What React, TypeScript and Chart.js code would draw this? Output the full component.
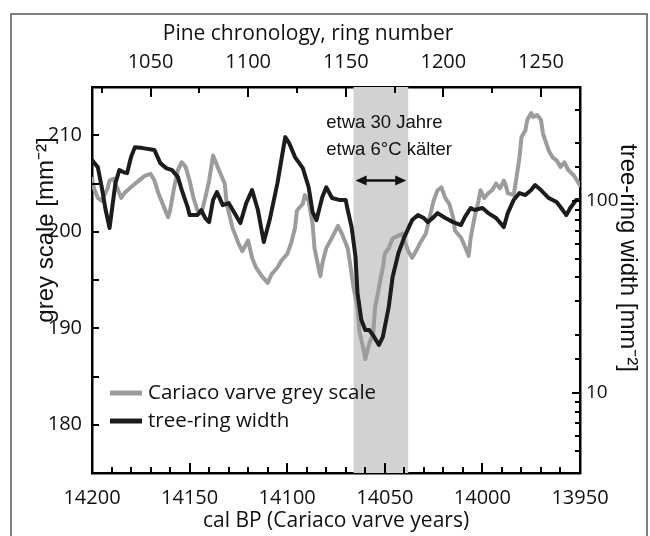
import React, { useEffect, useRef } from 'react';
import { Chart, registerables } from 'chart.js';

Chart.register(...registerables);

// ---------- data ----------
const greyYears = [14200, 14199, 14197, 14195, 14192, 14191, 14189, 14187, 14185, 14183, 14179, 14176, 14173, 14170, 14168, 14166, 14163, 14161, 14160, 14158, 14156, 14154, 14152, 14150, 14148, 14146, 14144, 14142, 14140, 14138, 14137, 14135, 14132, 14131, 14128, 14125, 14123, 14120, 14118, 14116, 14113, 14110, 14108, 14105, 14103, 14100, 14098, 14096, 14095, 14092, 14091, 14089, 14087, 14086, 14084, 14083, 14082, 14080, 14077, 14074, 14072, 14070, 14069, 14068, 14066, 14064, 14063, 14061, 14060, 14058, 14056, 14055, 14053, 14051, 14050, 14048, 14046, 14043, 14041, 14040, 14038, 14036, 14034, 14032, 14029, 14027, 14025, 14023, 14021, 14019, 14017, 14015, 14014, 14011, 14009, 14007, 14006, 14004, 14002, 14001, 13999, 13997, 13995, 13993, 13991, 13989, 13988, 13987, 13984, 13983, 13981, 13980, 13978, 13977, 13975, 13974, 13972, 13970, 13969, 13966, 13964, 13962, 13960, 13958, 13956, 13954, 13953, 13950];
const greyScale = [205.5, 204.5, 203.5, 203.2, 204.5, 205.3, 205.5, 204.5, 203.5, 204.1, 204.8, 205.3, 205.8, 206.0, 205.3, 204.0, 202.5, 201.5, 202.2, 204.5, 206.4, 207.2, 206.7, 205.3, 203.5, 202.2, 201.9, 203.5, 205.3, 207.9, 207.4, 206.4, 205.0, 202.9, 200.4, 198.8, 198.0, 199.1, 197.3, 196.3, 195.4, 194.7, 195.6, 196.3, 197.0, 197.7, 198.8, 200.4, 202.2, 202.9, 203.8, 203.2, 200.8, 198.3, 196.3, 195.4, 196.7, 198.3, 199.4, 200.6, 199.8, 198.8, 198.3, 197.0, 194.2, 192.1, 189.7, 187.9, 186.8, 188.4, 189.4, 192.1, 194.2, 196.3, 197.7, 198.3, 199.3, 199.6, 199.8, 199.1, 198.0, 197.3, 198.0, 198.8, 199.8, 201.5, 203.2, 204.3, 204.6, 203.5, 202.9, 201.5, 200.1, 199.4, 198.5, 197.5, 199.4, 201.5, 203.2, 204.3, 203.5, 204.0, 204.3, 205.0, 204.5, 205.3, 204.8, 204.0, 203.8, 205.0, 207.7, 209.8, 210.5, 211.6, 212.3, 211.9, 212.1, 211.6, 210.2, 208.4, 207.7, 207.4, 206.7, 207.2, 206.4, 206.0, 205.8, 204.8];

const treeYears = [14200, 14197, 14195, 14193, 14191, 14190, 14188, 14186, 14184, 14182, 14180, 14178, 14174, 14168, 14165, 14162, 14159, 14156, 14154, 14151, 14150, 14146, 14144, 14142, 14140, 14138, 14136, 14133, 14130, 14127, 14124, 14121, 14118, 14115, 14112, 14109, 14105, 14101, 14099, 14096, 14092, 14089, 14087, 14085, 14082, 14080, 14077, 14073, 14070, 14069, 14067, 14065, 14064, 14062, 14060, 14058, 14056, 14053, 14051, 14048, 14046, 14043, 14040, 14036, 14033, 14030, 14028, 14025, 14023, 14019, 14015, 14011, 14009, 14006, 14004, 14000, 13997, 13993, 13989, 13987, 13984, 13981, 13978, 13975, 13973, 13970, 13966, 13962, 13960, 13957, 13955, 13952, 13950];
const treeRingWidth = [163.5, 150, 118, 89.8, 72.3, 86.6, 124.1, 145, 141.6, 139.9, 169.5, 191, 188.8, 184.4, 157.7, 148.5, 145, 133.4, 114.1, 93.1, 84.5, 84.5, 89.8, 81.6, 77.7, 101.2, 111.4, 95.3, 97.6, 86.6, 76.8, 97.6, 114.1, 89.8, 61.2, 79.6, 124.1, 215.4, 200.5, 169.5, 148.5, 118, 87.6, 79.6, 104.9, 118, 103.7, 101.2, 101.2, 89.8, 73.2, 51.1, 33.2, 24.0, 21.3, 21.3, 20.0, 17.8, 19.6, 28.0, 40.2, 53.6, 64.9, 79.6, 84.5, 81.6, 77.7, 82.5, 86.6, 81.6, 77.7, 75.0, 82.5, 92.0, 89.8, 92.0, 86.6, 81.6, 73.2, 86.6, 101.2, 110.1, 107.5, 114.1, 121.2, 114.1, 103.7, 98.8, 93.1, 84.5, 92.0, 101.2, 101.2];

const seriesLabels = ['Cariaco varve grey scale', 'tree-ring width'];
const calBPRange = [13950, 14200];
const ringRange = [1020, 1270];
const ringTicks = [1025, 1050, 1075, 1100, 1125, 1150, 1175, 1200, 1225, 1250];
const greyRange = [175, 215];
const widthRange = [3.83, 393];
const coldBand = [14066, 14038];
const labelledWidths = [10, 100];
const annotationLines = ['etwa 30 Jahre', 'etwa 6°C kälter'];
const titleBottom = 'cal BP (Cariaco varve years)';
const titleTop = 'Pine chronology, ring number';
const titleLeft = 'grey scale [mm⁻²]';
const titleRight = 'tree-ring width [mm⁻²]';

// ---------- styles ----------
const GREY = '#9c9c9c';
const BLACK = '#1c1c1c';
const BAND = 'rgb(210,210,210)';
const SANS = "'Open Sans', sans-serif";
const ARIAL = "'Liberation Sans', Arial, sans-serif";

const isMult = (v: number, m: number) => Math.abs(v / m - Math.round(v / m)) < 1e-6;

const overlayPlugin = {
  id: 'overlay',
  beforeDatasetsDraw(chart: any) {
    const { ctx, chartArea: ca, scales } = chart;
    const a = scales.x.getPixelForValue(coldBand[0]);
    const b = scales.x.getPixelForValue(coldBand[1]);
    ctx.save();
    ctx.fillStyle = BAND;
    ctx.fillRect(Math.min(a, b), ca.top, Math.abs(b - a), ca.bottom - ca.top);
    ctx.restore();
  },
  afterDraw(chart: any) {
    const { ctx, chartArea: ca, scales } = chart;
    ctx.save();
    // tick marks (inward)
    ctx.strokeStyle = '#000';
    ctx.lineWidth = 2;
    const mark = (scale: any, side: string, major: (v: number) => boolean, lMaj: number, lMin: number) => {
      for (const t of scale.ticks) {
        const v = t.value;
        if (Math.abs(v - scale.min) < 1e-6 || Math.abs(v - scale.max) < 1e-6) continue;
        const p = Math.round(scale.getPixelForValue(v));
        const len = major(v) ? lMaj : lMin;
        ctx.beginPath();
        if (side === 'bottom') { ctx.moveTo(p, ca.bottom); ctx.lineTo(p, ca.bottom - len); }
        if (side === 'top') { ctx.moveTo(p, ca.top); ctx.lineTo(p, ca.top + len); }
        if (side === 'left') { ctx.moveTo(ca.left, p); ctx.lineTo(ca.left + len, p); }
        if (side === 'right') { ctx.moveTo(ca.right, p); ctx.lineTo(ca.right - len, p); }
        ctx.stroke();
      }
    };
    mark(scales.x, 'bottom', (v) => isMult(v, 50), 10, 6);
    mark(scales.x2, 'top', (v) => isMult(v, 50), 10, 6);
    mark(scales.y, 'left', () => true, 7, 7);
    mark(scales.y2, 'right', (v) => labelledWidths.includes(v), 8, 5);

    // annotation
    const ax = scales.x.getPixelForValue(14080);
    ctx.fillStyle = '#111';
    ctx.font = `18.5px ${ARIAL}`;
    ctx.textAlign = 'left';
    ctx.textBaseline = 'alphabetic';
    ctx.fillText(annotationLines[0], ax, scales.y.getPixelForValue(210.8));
    ctx.fillText(annotationLines[1], ax, scales.y.getPixelForValue(208.0));
    const ay = scales.y.getPixelForValue(205.3);
    const x1 = scales.x.getPixelForValue(coldBand[0]) + 2;
    const x2 = scales.x.getPixelForValue(coldBand[1]) - 2;
    ctx.strokeStyle = '#111';
    ctx.lineWidth = 2.5;
    ctx.beginPath(); ctx.moveTo(x1 + 6, ay); ctx.lineTo(x2 - 6, ay); ctx.stroke();
    ctx.beginPath();
    ctx.moveTo(x1, ay); ctx.lineTo(x1 + 11, ay - 5); ctx.lineTo(x1 + 11, ay + 5); ctx.closePath();
    ctx.moveTo(x2, ay); ctx.lineTo(x2 - 11, ay - 5); ctx.lineTo(x2 - 11, ay + 5); ctx.closePath();
    ctx.fill();

    // legend
    const ds = chart.data.datasets;
    const rows = [ds.find((d: any) => d.label === seriesLabels[0]), ds.find((d: any) => d.label === seriesLabels[1])];
    ctx.font = `20.5px ${SANS}`;
    ctx.textBaseline = 'middle';
    rows.forEach((d: any, i: number) => {
      const y = ca.bottom - 80 + i * 28;
      ctx.strokeStyle = d.borderColor;
      ctx.lineWidth = 5;
      ctx.beginPath(); ctx.moveTo(ca.left + 18, y); ctx.lineTo(ca.left + 50, y); ctx.stroke();
      ctx.fillStyle = '#111';
      ctx.fillText(d.label, ca.left + 56, y);
    });

    // axis titles
    ctx.fillStyle = '#111';
    ctx.textAlign = 'center';
    ctx.textBaseline = 'alphabetic';
    ctx.font = `21px ${SANS}`;
    ctx.fillText(titleTop, 308, 40);
    ctx.fillText(titleBottom, 336, 527);
    ctx.font = `24px ${ARIAL}`;
    ctx.textBaseline = 'middle';
    ctx.save(); ctx.translate(46, 230); ctx.rotate(-Math.PI / 2); ctx.fillText(titleLeft, 0, 0); ctx.restore();
    ctx.save(); ctx.translate(628, 258); ctx.rotate(Math.PI / 2); ctx.fillText(titleRight, 0, 0); ctx.restore();

    // outer frame
    ctx.strokeStyle = '#555';
    ctx.lineWidth = 1.5;
    ctx.beginPath();
    ctx.moveTo(11, 536); ctx.lineTo(11, 14); ctx.lineTo(647, 14); ctx.lineTo(647, 536);
    ctx.stroke();
    ctx.restore();
  },
};

export default function App() {
  const ref = useRef<HTMLCanvasElement>(null);
  useEffect(() => {
    const tickFont = { family: SANS, size: 20 };
    const border = { display: true, color: '#000', width: 2.5 };
    const chart = new Chart(ref.current as HTMLCanvasElement, {
      type: 'line',
      data: {
        datasets: [
          {
            label: seriesLabels[1],
            data: treeYears.map((x, i) => ({ x, y: treeRingWidth[i] })),
            borderColor: BLACK,
            borderWidth: 4,
            pointRadius: 0,
            tension: 0,
            xAxisID: 'x',
            yAxisID: 'y2',
            order: 0,
          },
          {
            label: seriesLabels[0],
            data: greyYears.map((x, i) => ({ x, y: greyScale[i] })),
            borderColor: GREY,
            borderWidth: 4,
            pointRadius: 0,
            tension: 0,
            xAxisID: 'x',
            yAxisID: 'y',
            order: 1,
          },
        ],
      },
      options: {
        responsive: false,
        animation: false,
        devicePixelRatio: 1,
        layout: { padding: 0 },
        plugins: { legend: { display: false }, tooltip: { enabled: false } },
        elements: { line: { borderJoinStyle: 'round', borderCapStyle: 'round' } },
        scales: {
          x: {
            type: 'linear', position: 'bottom', reverse: true,
            min: calBPRange[0], max: calBPRange[1],
            grid: { display: false, drawTicks: false }, border,
            ticks: { stepSize: 10, autoSkip: false, maxRotation: 0, padding: 13, font: tickFont, color: '#111',
              callback: (v: any) => (isMult(Number(v), 50) ? String(v) : '') },
            afterFit: (s: any) => { s.height = 63; },
          },
          x2: {
            type: 'linear', position: 'top', display: true,
            min: ringRange[0], max: ringRange[1],
            grid: { display: false, drawTicks: false }, border,
            ticks: { autoSkip: false, maxRotation: 0, padding: 13, font: tickFont, color: '#111',
              callback: (v: any) => (isMult(Number(v), 50) ? String(v) : '') },
            afterBuildTicks: (s: any) => { s.ticks = ringTicks.map((v) => ({ value: v })); },
            afterFit: (s: any) => { s.height = 87; },
          },
          y: {
            type: 'linear', position: 'left',
            min: greyRange[0], max: greyRange[1],
            grid: { display: false, drawTicks: false }, border,
            ticks: { stepSize: 5, autoSkip: false, padding: 10, font: tickFont, color: '#111',
              callback: (v: any) => (isMult(Number(v), 10) ? String(v) : '') },
            afterFit: (s: any) => { s.width = 92; },
          },
          y2: {
            type: 'logarithmic', position: 'right',
            min: widthRange[0], max: widthRange[1],
            grid: { display: false, drawTicks: false }, border,
            ticks: { autoSkip: false, padding: 6, font: { family: SANS, size: 19 }, color: '#111',
              callback: (v: any) => (labelledWidths.includes(Number(v)) ? String(v) : '') },
            afterFit: (s: any) => { s.width = 70; },
          },
        },
      },
      plugins: [overlayPlugin],
    } as any);
    return () => chart.destroy();
  }, []);
  return (
    <div style={{ position: 'fixed', left: 0, top: 0, width: 650, height: 536, background: '#fff' }}>
      <canvas ref={ref} width={650} height={536} style={{ display: 'block', width: 650, height: 536 }} />
    </div>
  );
}
